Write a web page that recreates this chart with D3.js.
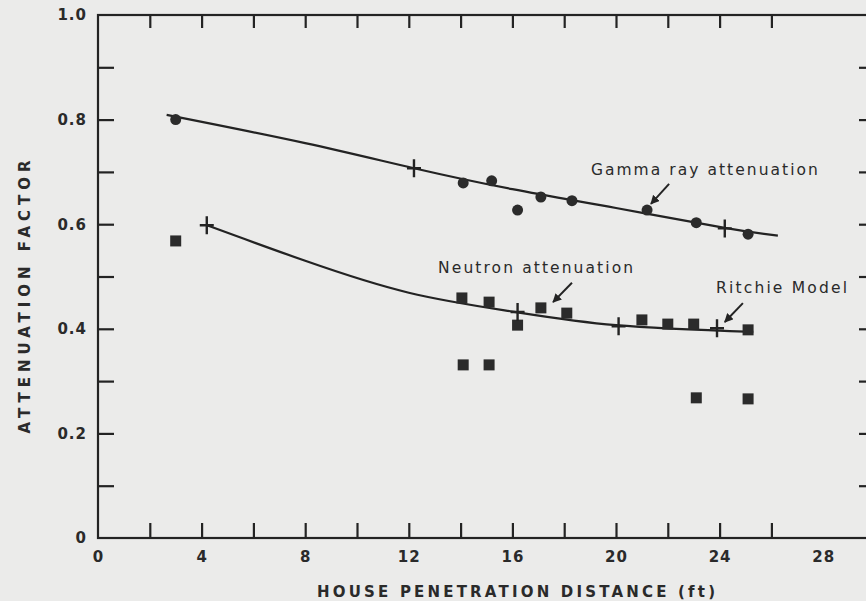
<!DOCTYPE html>
<html>
<head>
<meta charset="utf-8">
<script src="https://cdn.jsdelivr.net/npm/d3@7"></script>
<style>
  html, body { margin: 0; padding: 0; background: #ebebea; }
  svg { display: block; }
  .tick text { font-family: "DejaVu Sans", sans-serif; font-weight: bold; font-size: 15px; fill: #2a2a2a; letter-spacing: 1px; }
</style>
</head>
<body>
<div id="chart"></div>
<script>
// gamma ray attenuation measurements (circles)
const gammaX = [3, 14.1, 15.2, 16.2, 17.1, 18.3, 21.2, 23.1, 25.1];
const gammaY = [0.80, 0.679, 0.683, 0.627, 0.652, 0.645, 0.627, 0.603, 0.581];

// neutron attenuation measurements (squares)
const neutronX = [3, 14.05, 15.1, 16.2, 17.1, 18.1, 21.0, 22.0, 23.0, 25.1, 14.1, 15.1, 23.1, 25.1];
const neutronY = [0.568, 0.459, 0.451, 0.407, 0.44, 0.43, 0.417, 0.409, 0.409, 0.398, 0.331, 0.331, 0.268, 0.266];

// Ritchie model points (crosses)
const ritchieX = [12.2, 24.2, 4.2, 16.2, 20.1, 23.9];
const ritchieY = [0.707, 0.592, 0.598, 0.432, 0.405, 0.401];

// fitted curves
const gammaCurveX = [2.65, 8, 12.2, 16, 20, 24.2, 26.25];
const gammaCurveY = [0.809, 0.755, 0.707, 0.667, 0.631, 0.593, 0.578];
const neutronCurveX = [4.2, 8, 12, 16, 20, 25.3];
const neutronCurveY = [0.598, 0.53, 0.469, 0.433, 0.407, 0.394];

// axis ticks
const xTickMarks = [2, 4, 6, 8, 10, 12, 14, 16, 18, 20, 22, 24, 26];
const xTickLabels = [0, 4, 8, 12, 16, 20, 24, 28];
const yTickMarks = [0.1, 0.2, 0.3, 0.4, 0.5, 0.6, 0.7, 0.8, 0.9];
const yTickLabels = [0, 0.2, 0.4, 0.6, 0.8, 1.0];

const width = 866, height = 601;
const ink = '#232323';

const x = d3.scaleLinear().domain([0, 30]).range([98, 875]);
const y = d3.scaleLinear().domain([0, 1]).range([538, 15]);

const svg = d3.select('#chart').append('svg')
  .attr('width', width)
  .attr('height', height)
  .style('background-color', '#ebebea');

// frame
svg.append('rect')
  .attr('x', x(0)).attr('y', y(1))
  .attr('width', x(30) - x(0)).attr('height', y(0) - y(1))
  .attr('fill', 'none').attr('stroke', ink).attr('stroke-width', 2.2);

function marks(g) {
  g.select('.domain').remove();
  g.selectAll('.tick line').attr('stroke', ink).attr('stroke-width', 2.2);
}

svg.append('g').attr('transform', `translate(0,${y(0)})`)
  .call(d3.axisBottom(x).tickValues(xTickMarks).tickSize(-15).tickFormat(''))
  .call(marks);
svg.append('g').attr('transform', `translate(0,${y(1)})`)
  .call(d3.axisTop(x).tickValues(xTickMarks).tickSize(-13).tickFormat(''))
  .call(marks);
svg.append('g').attr('transform', `translate(${x(0)},0)`)
  .call(d3.axisLeft(y).tickValues(yTickMarks).tickSize(-16).tickFormat(''))
  .call(marks);
svg.append('g').attr('transform', `translate(${x(30)},0)`)
  .call(d3.axisRight(y).tickValues(yTickMarks).tickSize(-16).tickFormat(''))
  .call(marks);

// tick labels
svg.append('g').attr('transform', `translate(0,${y(0)})`)
  .call(d3.axisBottom(x).tickValues(xTickLabels).tickSize(0).tickPadding(13).tickFormat(d3.format('d')))
  .call(g => g.select('.domain').remove());
svg.append('g').attr('transform', `translate(${x(0)},0)`)
  .call(d3.axisLeft(y).tickValues(yTickLabels).tickSize(0).tickPadding(11)
    .tickFormat(d => d === 0 ? '0' : d3.format('.1f')(d)))
  .call(g => g.select('.domain').remove());

// axis titles
svg.append('text')
  .attr('x', 516).attr('y', 592)
  .attr('text-anchor', 'middle').attr('dominant-baseline', 'middle')
  .attr('textLength', 398).attr('lengthAdjust', 'spacing')
  .style('font-family', '"DejaVu Sans", sans-serif').style('font-weight', 'bold')
  .style('font-size', '15px').style('fill', '#2a2a2a')
  .text('HOUSE PENETRATION DISTANCE (ft)');
svg.append('text')
  .attr('transform', 'translate(25,297) rotate(-90)')
  .attr('text-anchor', 'middle').attr('dominant-baseline', 'middle')
  .attr('textLength', 273).attr('lengthAdjust', 'spacing')
  .style('font-family', '"DejaVu Sans", sans-serif').style('font-weight', 'bold')
  .style('font-size', '15px').style('fill', '#2a2a2a')
  .text('ATTENUATION FACTOR');

// curves
const line = d3.line().x(d => x(d[0])).y(d => y(d[1])).curve(d3.curveNatural);
svg.append('path')
  .datum(d3.zip(gammaCurveX, gammaCurveY))
  .attr('d', line).attr('fill', 'none').attr('stroke', ink).attr('stroke-width', 2.2);
svg.append('path')
  .datum(d3.zip(neutronCurveX, neutronCurveY))
  .attr('d', line).attr('fill', 'none').attr('stroke', ink).attr('stroke-width', 2.2);

// points
svg.append('g').selectAll('circle')
  .data(d3.zip(gammaX, gammaY))
  .enter().append('circle')
  .attr('cx', d => x(d[0])).attr('cy', d => y(d[1])).attr('r', 5.5)
  .attr('fill', '#2b2b2b');

svg.append('g').selectAll('rect')
  .data(d3.zip(neutronX, neutronY))
  .enter().append('rect')
  .attr('x', d => x(d[0]) - 5.5).attr('y', d => y(d[1]) - 5.5)
  .attr('width', 11).attr('height', 11)
  .attr('fill', '#2b2b2b');

svg.append('g').selectAll('path')
  .data(d3.zip(ritchieX, ritchieY))
  .enter().append('path')
  .attr('d', d => {
    const cx = x(d[0]), cy = y(d[1]);
    return `M${cx - 7},${cy}H${cx + 7}M${cx},${cy - 9}V${cy + 9}`;
  })
  .attr('stroke', ink).attr('stroke-width', 2.4).attr('fill', 'none');

// annotations
const notes = [
  { text: 'Gamma ray attenuation', tx: 19.03, ty: 0.702, len: 227, from: [22.05, 0.677], to: [21.35, 0.639] },
  { text: 'Neutron attenuation', tx: 13.13, ty: 0.516, len: 195, from: [18.3, 0.488], to: [17.57, 0.451] },
  { text: 'Ritchie Model', tx: 23.86, ty: 0.477, len: 131, from: [24.9, 0.449], to: [24.2, 0.413] }
];

svg.append('defs').append('marker')
  .attr('id', 'head').attr('viewBox', '0 0 10 10')
  .attr('refX', 9).attr('refY', 5)
  .attr('markerWidth', 4.5).attr('markerHeight', 4.5)
  .attr('orient', 'auto')
  .append('path').attr('d', 'M0,0L10,5L0,10Z').attr('fill', ink);

const note = svg.append('g').selectAll('g').data(notes).enter().append('g');
note.append('text')
  .attr('x', d => x(d.tx)).attr('y', d => y(d.ty))
  .attr('dominant-baseline', 'middle')
  .attr('textLength', d => d.len).attr('lengthAdjust', 'spacing')
  .style('font-family', '"DejaVu Sans", sans-serif')
  .style('font-size', '15.5px').style('fill', '#2a2a2a')
  .text(d => d.text);
note.append('line')
  .attr('x1', d => x(d.from[0])).attr('y1', d => y(d.from[1]))
  .attr('x2', d => x(d.to[0])).attr('y2', d => y(d.to[1]))
  .attr('stroke', ink).attr('stroke-width', 2)
  .attr('marker-end', 'url(#head)');
</script>
</body>
</html>
